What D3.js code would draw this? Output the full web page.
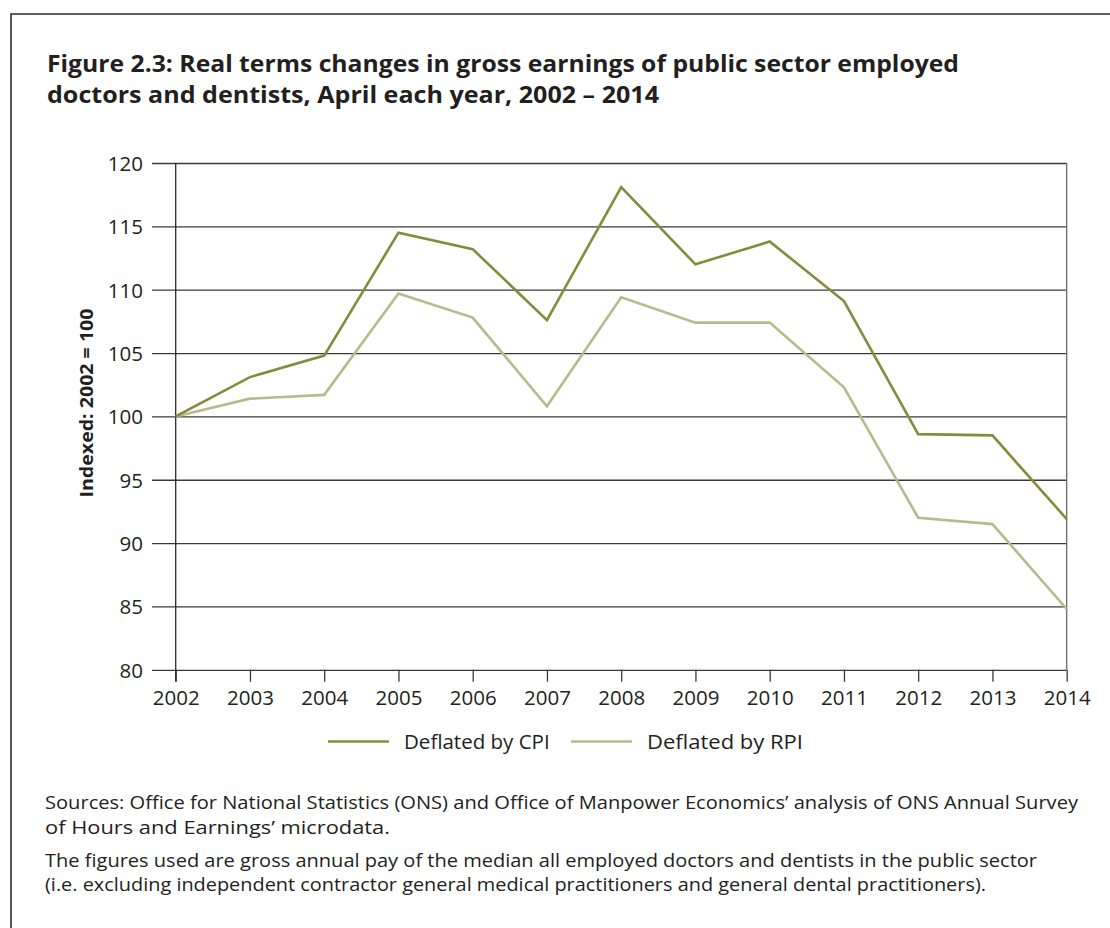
<!DOCTYPE html>
<html>
<head>
<meta charset="utf-8">
<script src="https://cdn.jsdelivr.net/npm/d3@7"></script>
<style>
  html, body { margin: 0; padding: 0; background: #fff; }
  svg { display: block; }
  text { font-family: "Open Sans", "Noto Sans", sans-serif; fill: #231f20; }
</style>
</head>
<body>
<svg id="chart" width="1110" height="928"></svg>
<script>
// ---- data ----
const years = [2002, 2003, 2004, 2005, 2006, 2007, 2008, 2009, 2010, 2011, 2012, 2013, 2014];
const cpiValues = [100, 103.1, 104.8, 114.5, 113.2, 107.6, 118.1, 112.0, 113.8, 109.1, 98.6, 98.5, 91.9];
const rpiValues = [100, 101.4, 101.7, 109.7, 107.8, 100.8, 109.4, 107.4, 107.4, 102.3, 92.0, 91.5, 84.8];
const yTicks = [80, 85, 90, 95, 100, 105, 110, 115, 120];
const seriesNames = ["Deflated by CPI", "Deflated by RPI"];
const seriesColors = ["#878a3c", "#b9ba8c"];
const titleLines = [
  "Figure 2.3: Real terms changes in gross earnings of public sector employed",
  "doctors and dentists, April each year, 2002 \u2013 2014"
];
const yLabel = "Indexed: 2002 = 100";
const noteLines = [
  "Sources: Office for National Statistics (ONS) and Office of Manpower Economics\u2019 analysis of ONS Annual Survey",
  "of Hours and Earnings\u2019 microdata.",
  "The figures used are gross annual pay of the median all employed doctors and dentists in the public sector",
  "(i.e. excluding independent contractor general medical practitioners and general dental practitioners)."
];

(function () {
const svg = d3.select("#chart");
svg.append("rect").attr("width", 1110).attr("height", 928).attr("fill", "#fff");

function fit(el, target) {
  const w = el.node().getComputedTextLength();
  if (Math.abs(w - target) > 3) el.attr("textLength", target).attr("lengthAdjust", "spacingAndGlyphs");
}

// outer frame (top and left)
svg.append("path").attr("d", "M11,928V14H1110").attr("fill", "none")
  .attr("stroke", "#2b2b2b").attr("stroke-width", 1.6);

// title
const titleBase = [72, 103];
const titleWidths = [912, 612];
titleLines.forEach((t, i) => {
  const el = svg.append("text").attr("x", 47).attr("y", titleBase[i])
    .attr("font-size", 24).attr("font-weight", 700).text(t);
  fit(el, titleWidths[i]);
});

// scales
const pLeft = 175.7, pRight = 1066.7, pTop = 163, pBottom = 669.8;
const x = d3.scaleLinear().domain([years[0], years[years.length - 1]]).range([pLeft, pRight]);
const y = d3.scaleLinear().domain([80, 120]).range([pBottom, pTop]);

// y axis with gridlines
const yAxis = d3.axisLeft(y).tickValues(yTicks).tickSizeInner(-(pRight - 152)).tickSizeOuter(0).tickPadding(9);
const gy = svg.append("g").attr("transform", "translate(152,0)").call(yAxis);
gy.select(".domain").remove();
gy.selectAll(".tick line").attr("stroke", "#3a3a3a").attr("stroke-width", 1.3);
gy.selectAll(".tick text").attr("font-size", 20.5).attr("fill", "#231f20")
  .attr("font-family", "'Open Sans', sans-serif").attr("dy", "0.36em");

// x axis
const xAxis = d3.axisBottom(x).tickValues(years).tickFormat(d3.format("d")).tickSizeInner(12).tickSizeOuter(0).tickPadding(9);
const gx = svg.append("g").attr("transform", `translate(0,${pBottom})`).call(xAxis);
gx.select(".domain").remove();
gx.selectAll(".tick line").attr("stroke", "#3a3a3a").attr("stroke-width", 1.3);
gx.selectAll(".tick text").attr("font-size", 20.5).attr("fill", "#231f20")
  .attr("font-family", "'Open Sans', sans-serif");

// vertical axis line and right frame line
svg.append("line").attr("x1", pLeft).attr("x2", pLeft).attr("y1", pTop).attr("y2", pBottom + 12)
  .attr("stroke", "#2b2b2b").attr("stroke-width", 1.3);
svg.append("line").attr("x1", pRight).attr("x2", pRight).attr("y1", pTop).attr("y2", pBottom)
  .attr("stroke", "#6a6a6a").attr("stroke-width", 1.3);

// y label
const yl = svg.append("text").attr("transform", `translate(93,403) rotate(-90)`)
  .attr("text-anchor", "middle").attr("font-size", 18.5).attr("font-weight", 700).text(yLabel);
fit(yl, 189);

// lines
const line = d3.line().x((d, i) => x(years[i])).y(d => y(d));
const seriesValues = [cpiValues, rpiValues];
[1, 0].forEach(s => {
  svg.append("path").datum(seriesValues[s]).attr("d", line).attr("fill", "none")
    .attr("stroke", seriesColors[s]).attr("stroke-width", 2.6).attr("stroke-linejoin", "miter");
});

// legend
const legendX = [328, 571];
const legendW = [147, 156];
seriesNames.forEach((n, i) => {
  const g = svg.append("g").attr("transform", `translate(${legendX[i]},741.5)`);
  g.append("line").attr("x1", 0).attr("x2", 61).attr("stroke", seriesColors[i]).attr("stroke-width", 2.6);
  const t = g.append("text").attr("x", 76).attr("y", 7).attr("font-size", 20.5).text(n);
  fit(t, legendW[i]);
});

// notes
const noteBase = [809, 834, 867, 891];
const noteWidths = [1033, 345, 992, 941];
noteLines.forEach((t, i) => {
  const el = svg.append("text").attr("x", 45).attr("y", noteBase[i]).attr("font-size", 18).text(t);
  fit(el, noteWidths[i]);
});
})();
</script>
</body>
</html>
